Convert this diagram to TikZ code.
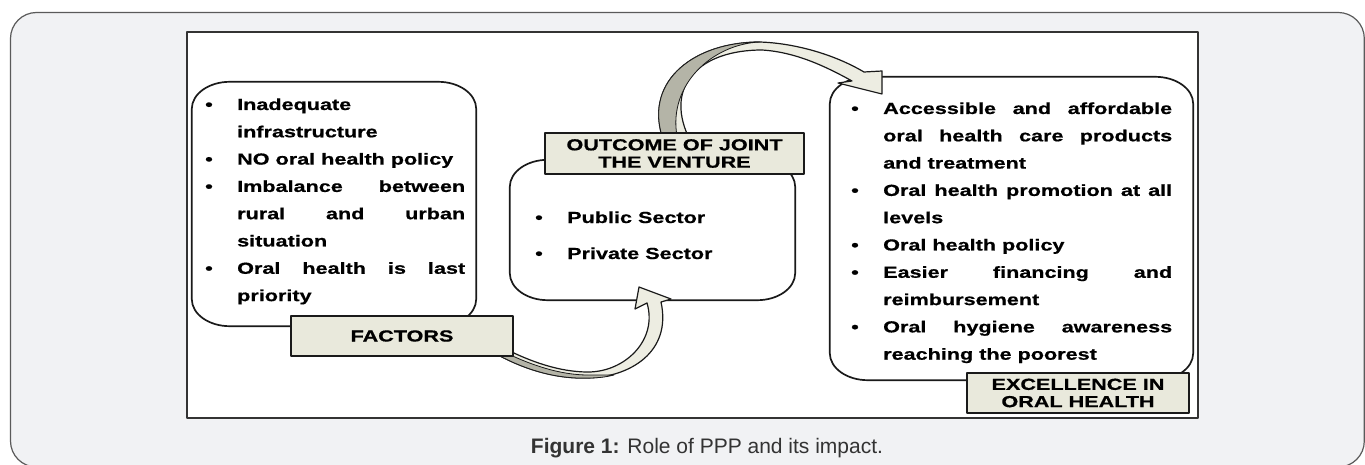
\documentclass[tikz,border=0pt]{standalone}
\usepackage{fontspec}
\setmainfont{Liberation Sans}
\newfontfamily\dfont[FakeStretch=1.35,FakeBold=0.7]{Liberation Sans}
\usetikzlibrary{calc}
\definecolor{framefill}{HTML}{F1F2F4}
\definecolor{framegray}{HTML}{5A5A5A}
\definecolor{innergray}{HTML}{333333}
\definecolor{boxline}{HTML}{1A1A1A}
\definecolor{labfill}{HTML}{E9E9DC}
\definecolor{arrfill}{HTML}{EDEDE2}
\definecolor{arrshade}{HTML}{B4B4A7}
\definecolor{captext}{HTML}{333333}
\newcommand\ebox[1]{%
  \draw[boxline, line width=1.7pt]
    ([yshift=-27pt]#1.north west) arc[start angle=180,end angle=90,x radius=38pt,y radius=27pt]
    -- ([xshift=-38pt]#1.north east) arc[start angle=90,end angle=0,x radius=38pt,y radius=27pt]
    -- ([yshift=27pt]#1.south east) arc[start angle=0,end angle=-90,x radius=38pt,y radius=27pt]
    -- ([xshift=38pt]#1.south west) arc[start angle=270,end angle=180,x radius=38pt,y radius=27pt]
    -- cycle;}
\newcommand\bul{\makebox[32pt][l]{\textbullet}}
\newcommand\ind{\hspace*{32pt}}
\tikzset{
  area/.style={draw=none, inner sep=0pt},
  lbl/.style={draw=boxline, fill=labfill, line width=1.6pt, inner sep=0pt, align=center,
    font=\dfont\bfseries\fontsize{16pt}{17.3pt}\selectfont},
  txt/.style={inner sep=0pt, font=\dfont\bfseries\fontsize{16pt}{27.3pt}\selectfont},
  barrow/.style={draw=boxline, line width=1.2pt, fill=arrfill},
  bshade/.style={fill=arrshade, draw=boxline, line width=0.8pt}
}
\begin{document}
\begin{tikzpicture}[x=1pt,y=-1pt,line join=round]
\useasboundingbox (0,0) rectangle (1365,465);
% page frame
\draw[fill=framefill, draw=framegray, line width=1.2pt, rounded corners=26pt]
  (10.5,12.5) rectangle (1364.3,467);
\draw[fill=white, draw=innergray, line width=1.5pt] (187,32) rectangle (1198,418);
% big rounded boxes
\node[area, minimum width=284pt, minimum height=244pt] (L) at (334,204) {};
\node[area, minimum width=285pt, minimum height=140pt] (M) at (652.5,230) {};
\node[area, minimum width=363pt, minimum height=303pt] (R) at (1011.5,228.5) {};
\ebox{L}\ebox{M}\ebox{R}
% texts
\node[txt, anchor=base west] (Lt) at (205,110) {\parbox[t]{265pt}{\fontsize{16pt}{27.3pt}\selectfont
\bul Inadequate\\
\ind infrastructure\\
\bul NO oral health policy\\
\bul \makebox[228pt][s]{Imbalance between}\\
\ind \makebox[228pt][s]{rural and urban}\\
\ind situation\\
\bul \makebox[228pt][s]{Oral health is last}\\
\ind priority}};
\node[txt, anchor=base west] (Mt1) at (535,223) {\bul Public Sector};
\node[txt, anchor=base west] (Mt2) at (535,259) {\bul Private Sector};
\node[txt, anchor=base west] (Rt) at (851,114) {\parbox[t]{330pt}{\fontsize{16pt}{27.3pt}\selectfont
\bul \makebox[289pt][s]{Accessible and affordable}\\
\ind \makebox[289pt][s]{oral health care products}\\
\ind and treatment\\
\bul \makebox[289pt][s]{Oral health promotion at all}\\
\ind levels\\
\bul Oral health policy\\
\bul \makebox[289pt][s]{Easier financing and}\\
\ind reimbursement\\
\bul \makebox[289pt][s]{Oral hygiene awareness}\\
\ind reaching the poorest}};
% end points of the block arrows
\coordinate (a1s) at (500,352);
\coordinate (a1e) at (639,287);
\coordinate (a2s) at (675,135);
\coordinate (a2e) at (882,94);
% block arrow FACTORS -> middle box
\draw[barrow] (498,355) .. controls (530,372) and (560,379) .. (588,378)
  .. controls (630,377) and (672,352) .. (661,302) -- (671,299) -- (a1e) -- (635,309) -- (647,303)
  .. controls (658,340) and (625,372) .. (588,372)
  .. controls (560,372) and (530,362) .. (500,346) -- cycle;
\draw[bshade] (498,355) .. controls (530,372) and (560,379) .. (588,378)
  .. controls (598,378) and (606,377) .. (614,375)
  .. controls (604,375) and (596,375) .. (588,375)
  .. controls (560,375) and (530,365) .. (500,350) -- cycle;
% block arrow OUTCOME -> right box
\draw[barrow] (662,136) .. controls (645,80) and (695,42) .. (760,42)
  .. controls (790,43) and (830,52) .. (864,72) -- (882,71) -- (a2e) -- (838,83) -- (852,81)
  .. controls (825,66) and (795,52) .. (762,50)
  .. controls (700,50) and (665,85) .. (688,136) -- cycle;
\draw[bshade] (662,136) .. controls (645,80) and (695,42) .. (760,42)
  .. controls (712,44) and (668,85) .. (677,136) -- cycle;
% label boxes
\node[lbl, minimum width=222pt, minimum height=40pt] (F) at (402,336) {FACTORS};
\node[lbl, minimum width=259pt, minimum height=41pt] (O) at (674.5,153.5) {OUTCOME OF JOINT\\THE VENTURE};
\node[lbl, minimum width=222pt, minimum height=40pt] (E) at (1078,393) {EXCELLENCE IN\\ORAL HEALTH};
% caption
\node[anchor=base, inner sep=0pt, text=captext, font=\fontsize{21pt}{25pt}\selectfont] (cap) at (707,453)
  {\textbf{Figure 1:} Role of PPP and its impact.};
\end{tikzpicture}
\end{document}
